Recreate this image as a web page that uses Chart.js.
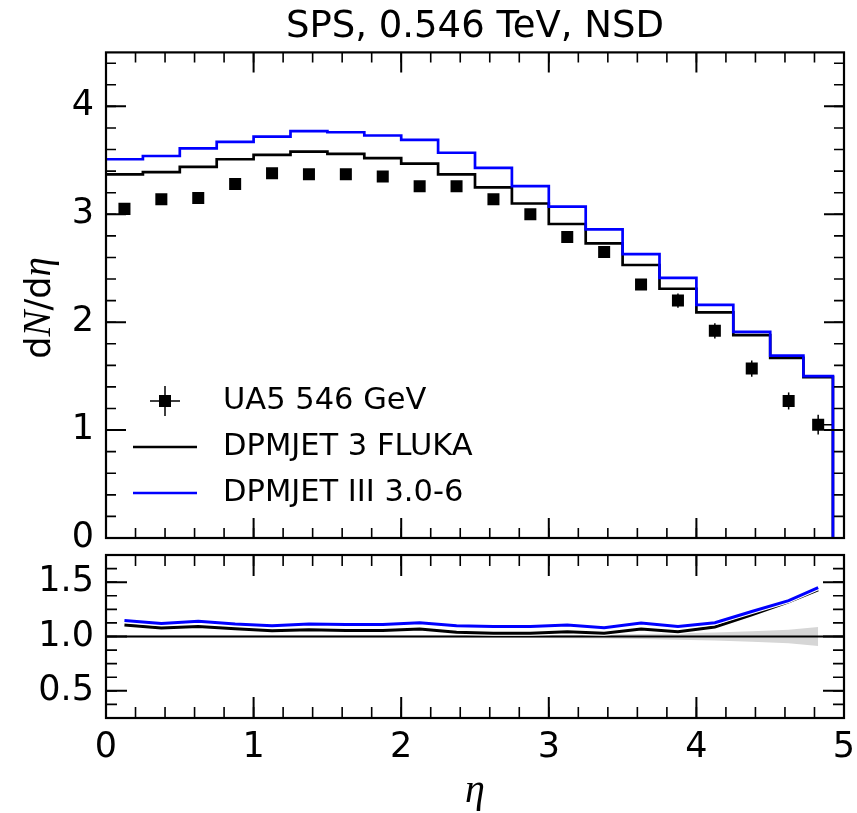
<!DOCTYPE html>
<html>
<head>
<meta charset="utf-8">
<script src="https://cdn.jsdelivr.net/npm/chart.js@4.4.1/dist/chart.umd.min.js"></script>
<style>
  html, body { margin: 0; padding: 0; background: #fff; overflow: hidden; }
  #wrap { position: relative; width: 857px; height: 813px; }
  #top { position: absolute; left: 0; top: 0; }
  #bot { position: absolute; left: 0; top: 548px; }
</style>
</head>
<body>
<div id="wrap">
  <canvas id="top" width="857" height="548"></canvas>
  <canvas id="bot" width="857" height="265"></canvas>
</div>
<script>
// dN/deta at 546 GeV: UA5 points vs two DPMJET histograms, ratio panel below

// UA5 data (bin centres)
const ETA = [0.125, 0.375, 0.625, 0.875, 1.125, 1.375, 1.625, 1.875, 2.125, 2.375,
             2.625, 2.875, 3.125, 3.375, 3.625, 3.875, 4.125, 4.375, 4.625, 4.825];
const UA5 = [3.05, 3.14, 3.15, 3.28, 3.38, 3.37, 3.37, 3.35, 3.26, 3.26,
             3.14, 3.00, 2.79, 2.65, 2.35, 2.20, 1.92, 1.57, 1.27, 1.05];
const UA5_ERR = [0.03, 0.03, 0.03, 0.03, 0.03, 0.03, 0.03, 0.03, 0.03, 0.03,
                 0.035, 0.035, 0.04, 0.045, 0.05, 0.066, 0.071, 0.075, 0.079, 0.091];
const UA5_XERR_HI = [0, 0, 0, 0, 0, 0, 0, 0, 0, 0, 0, 0, 0, 0, 0, 0, 0, 0, 0, 0.1];

// MC histograms (left bin edges + last right edge)
const BIN_EDGES = [0, 0.25, 0.5, 0.75, 1.0, 1.25, 1.5, 1.75, 2.0, 2.25,
                   2.5, 2.75, 3.0, 3.25, 3.5, 3.75, 4.0, 4.25, 4.5, 4.725, 4.925];
const FLUKA = [3.37, 3.39, 3.44, 3.51, 3.55, 3.58, 3.56, 3.52, 3.47, 3.37,
               3.25, 3.10, 2.91, 2.73, 2.53, 2.31, 2.09, 1.88, 1.67, 1.49];
const DPM306 = [3.51, 3.54, 3.61, 3.67, 3.72, 3.77, 3.76, 3.73, 3.69, 3.57,
                3.43, 3.26, 3.07, 2.86, 2.63, 2.41, 2.16, 1.91, 1.69, 1.50];

// ratio panel (MC / data) and relative data uncertainty
const RATIO_FLUKA = [1.105, 1.078, 1.093, 1.071, 1.053, 1.062, 1.056, 1.056, 1.068, 1.04,
                     1.031, 1.031, 1.043, 1.031, 1.068, 1.043, 1.087, 1.20, 1.32, 1.43];
const RATIO_DPM = [1.148, 1.12, 1.14, 1.115, 1.10, 1.115, 1.11, 1.11, 1.127, 1.10,
                   1.093, 1.093, 1.105, 1.08, 1.124, 1.093, 1.127, 1.23, 1.33, 1.45];
const REL_ERR = [0.01, 0.01, 0.01, 0.01, 0.01, 0.01, 0.01, 0.01, 0.01, 0.01,
                 0.012, 0.013, 0.015, 0.018, 0.022, 0.03, 0.037, 0.048, 0.062, 0.087];

// axes
const X_TICKS = [0, 1, 2, 3, 4, 5];
const Y_TICKS_MAIN = [0, 1, 2, 3, 4];
const Y_TICKS_RATIO = [0.5, 1.0, 1.5];
const REF_LEVEL = 1.0;

const SANS = '"DejaVu Sans", sans-serif';
const MATH = '"Liberation Serif", "DejaVu Serif", serif';
const TICK_FONT = { family: SANS, size: 35 };

const pts = (xs, ys) => xs.map((x, i) => ({ x: x, y: ys[i] }));
const hist = vals => BIN_EDGES.map((e, i) => ({ x: e, y: i < vals.length ? vals[i] : 0 }));
const fixTicks = arr => scale => { scale.ticks = arr.map(v => ({ value: v })); };
// pin the plot area: no extra room for overhanging tick labels
const pinY = s => { s.width = 106; s.paddingTop = 0; s.paddingBottom = 0; };
const pinX = s => { s.height = 95; s.paddingLeft = 0; s.paddingRight = 0; };

// frame + inward major/minor ticks on all four sides
const framePlugin = {
  id: 'frame',
  afterDatasetsDraw(chart, args, o) {
    const { ctx, chartArea: a } = chart;
    const xs = chart.scales.x, ys = chart.scales.y;
    ctx.save();
    ctx.strokeStyle = '#000';
    const tx = (v, len, w) => {
      const p = xs.getPixelForValue(v);
      ctx.lineWidth = w;
      ctx.beginPath();
      ctx.moveTo(p, a.bottom); ctx.lineTo(p, a.bottom - len);
      ctx.moveTo(p, a.top); ctx.lineTo(p, a.top + len);
      ctx.stroke();
    };
    const ty = (v, len, w) => {
      const p = ys.getPixelForValue(v);
      ctx.lineWidth = w;
      ctx.beginPath();
      ctx.moveTo(a.left, p); ctx.lineTo(a.left + len, p);
      ctx.moveTo(a.right, p); ctx.lineTo(a.right - len, p);
      ctx.stroke();
    };
    const nx = Math.floor((xs.max - xs.min) / o.xMinor + 1e-6);
    for (let i = 0; i <= nx; i++) tx(xs.min + i * o.xMinor, o.minorLen, 1.6);
    const ny = Math.floor((ys.max - ys.min) / o.yMinor + 1e-6);
    for (let i = 0; i <= ny; i++) ty(ys.min + i * o.yMinor, o.minorLen, 1.6);
    xs.ticks.forEach(t => tx(t.value, o.majorLen, 2));
    ys.ticks.forEach(t => ty(t.value, o.majorLen, 2));
    ctx.lineWidth = 2.2;
    ctx.strokeRect(a.left, a.top, a.right - a.left, a.bottom - a.top);
    ctx.restore();
  }
};

// error bars on the UA5 points
const errorBarPlugin = {
  id: 'errorBars',
  beforeDatasetsDraw(chart) {
    const { ctx } = chart;
    const xs = chart.scales.x, ys = chart.scales.y;
    ctx.save();
    ctx.strokeStyle = '#000';
    ctx.lineWidth = 1.5;
    ETA.forEach((x, i) => {
      const px = xs.getPixelForValue(x);
      ctx.beginPath();
      ctx.moveTo(px, ys.getPixelForValue(UA5[i] - UA5_ERR[i]));
      ctx.lineTo(px, ys.getPixelForValue(UA5[i] + UA5_ERR[i]));
      if (UA5_XERR_HI[i] > 0) {
        const py = ys.getPixelForValue(UA5[i]);
        ctx.moveTo(px, py);
        ctx.lineTo(xs.getPixelForValue(x + UA5_XERR_HI[i]), py);
      }
      ctx.stroke();
    });
    ctx.restore();
  }
};

// legend in the lower-left corner of the main panel
const cornerLegend = {
  id: 'cornerLegend',
  afterDraw(chart, args, o) {
    const ctx = chart.ctx;
    ctx.save();
    ctx.font = o.fontSize + 'px ' + SANS;
    ctx.textBaseline = 'middle';
    ctx.textAlign = 'left';
    o.items.forEach((idx, row) => {
      const ds = chart.data.datasets[idx];
      const cy = o.y + row * o.rowGap;
      const cx = o.x;
      if (ds.type === 'scatter') {
        ctx.strokeStyle = '#000';
        ctx.lineWidth = 1.5;
        ctx.beginPath();
        ctx.moveTo(cx - 15, cy); ctx.lineTo(cx + 15, cy);
        ctx.moveTo(cx, cy - 15); ctx.lineTo(cx, cy + 15);
        ctx.stroke();
        ctx.fillStyle = '#000';
        ctx.fillRect(cx - 6, cy - 6, 12, 12);
      } else {
        ctx.strokeStyle = ds.borderColor;
        ctx.lineWidth = ds.borderWidth;
        ctx.beginPath();
        ctx.moveTo(cx - 32, cy); ctx.lineTo(cx + 32, cy);
        ctx.stroke();
      }
      ctx.fillStyle = '#000';
      ctx.fillText(ds.label, o.textX, cy);
    });
    ctx.restore();
  }
};

// y axis label "dN/dη" with math-italic pieces
const yLabelPlugin = {
  id: 'yLabel',
  afterDraw(chart, args, o) {
    const ctx = chart.ctx;
    ctx.save();
    ctx.translate(o.x, o.y);
    ctx.rotate(-Math.PI / 2);
    ctx.fillStyle = '#000';
    ctx.textBaseline = 'alphabetic';
    let total = 0;
    o.parts.forEach(p => { ctx.font = p.font; total += ctx.measureText(p.text).width; });
    let cx = -total / 2;
    o.parts.forEach(p => {
      ctx.font = p.font;
      ctx.fillText(p.text, cx, 0);
      cx += ctx.measureText(p.text).width;
    });
    ctx.restore();
  }
};

const commonPlugins = { legend: { display: false }, tooltip: { enabled: false } };

new Chart(document.getElementById('top'), {
  type: 'line',
  data: {
    datasets: [
      { type: 'scatter', label: 'UA5 546 GeV', data: pts(ETA, UA5),
        pointStyle: 'rect', pointRadius: 8.5, pointBorderWidth: 0,
        backgroundColor: '#000', borderColor: '#000', order: 3 },
      { label: 'DPMJET 3 FLUKA', data: hist(FLUKA), stepped: true,
        borderColor: '#000', borderWidth: 2.7, pointRadius: 0, fill: false, order: 2 },
      { label: 'DPMJET III 3.0-6', data: hist(DPM306), stepped: true,
        borderColor: '#0000ff', borderWidth: 2.7, pointRadius: 0, fill: false, order: 1 }
    ]
  },
  options: {
    responsive: false,
    animation: false,
    layout: { padding: { left: 0, right: 13, top: 0, bottom: 10 } },
    plugins: Object.assign({}, commonPlugins, {
      title: { display: true, fullSize: false, text: 'SPS, 0.546 TeV, NSD', color: '#000',
               font: { family: SANS, size: 37, weight: 'normal' }, padding: { top: 5, bottom: 3 } },
      frame: { xMinor: 0.2, yMinor: 0.2, majorLen: 20, minorLen: 10 },
      cornerLegend: { items: [0, 1, 2], x: 165, y: 401, rowGap: 46, textX: 223, fontSize: 30.5 },
      yLabel: { x: 50, y: 308, parts: [
        { text: 'd', font: '35px ' + SANS },
        { text: 'N', font: 'italic 39px ' + MATH },
        { text: '/', font: '35px ' + SANS },
        { text: 'd', font: '35px ' + SANS },
        { text: 'η', font: 'italic 39px ' + MATH }
      ] }
    }),
    scales: {
      x: { type: 'linear', min: 0, max: 5, display: false, afterBuildTicks: fixTicks(X_TICKS) },
      y: { type: 'linear', min: 0, max: 4.5,
           afterBuildTicks: fixTicks(Y_TICKS_MAIN),
           afterFit: pinY,
           grid: { display: false, drawTicks: false }, border: { display: false },
           ticks: { color: '#000', font: TICK_FONT, padding: 12 } }
    }
  },
  plugins: [errorBarPlugin, framePlugin, cornerLegend, yLabelPlugin]
});

new Chart(document.getElementById('bot'), {
  type: 'line',
  data: {
    datasets: [
      { label: 'band+', data: pts(ETA, REL_ERR.map(e => REF_LEVEL + e)), pointRadius: 0,
        borderWidth: 0, borderColor: 'rgba(0,0,0,0)', backgroundColor: '#d6d6d6', fill: '+1', order: 9 },
      { label: 'band-', data: pts(ETA, REL_ERR.map(e => REF_LEVEL - e)), pointRadius: 0,
        borderWidth: 0, borderColor: 'rgba(0,0,0,0)', fill: false, order: 9 },
      { label: 'ref', data: [{ x: X_TICKS[0], y: REF_LEVEL }, { x: X_TICKS[X_TICKS.length - 1], y: REF_LEVEL }],
        borderColor: '#000', borderWidth: 2, pointRadius: 0, fill: false, order: 8 },
      { label: 'fluka halo', data: pts(ETA, RATIO_FLUKA), borderColor: '#fff', borderWidth: 5.2,
        pointRadius: 0, fill: false, order: 7 },
      { label: 'DPMJET 3 FLUKA', data: pts(ETA, RATIO_FLUKA), borderColor: '#000', borderWidth: 3,
        pointRadius: 0, fill: false, order: 6 },
      { label: 'dpm halo', data: pts(ETA, RATIO_DPM), borderColor: '#fff', borderWidth: 5.2,
        pointRadius: 0, fill: false, order: 5 },
      { label: 'DPMJET III 3.0-6', data: pts(ETA, RATIO_DPM), borderColor: '#0000ff', borderWidth: 3,
        pointRadius: 0, fill: false, order: 4 }
    ]
  },
  options: {
    responsive: false,
    animation: false,
    layout: { padding: { left: 0, right: 13, top: 7, bottom: 0 } },
    plugins: Object.assign({}, commonPlugins, {
      frame: { xMinor: 0.2, yMinor: 0.125, majorLen: 21, minorLen: 11 }
    }),
    scales: {
      x: { type: 'linear', min: 0, max: 5,
           afterBuildTicks: fixTicks(X_TICKS),
           afterFit: pinX,
           grid: { display: false, drawTicks: false }, border: { display: false },
           ticks: { color: '#000', font: TICK_FONT, padding: 9, maxRotation: 0 },
           title: { display: true, text: 'η', color: '#000',
                    font: { family: MATH, size: 40, style: 'italic', lineHeight: 1.05 },
                    padding: { top: 0, bottom: 1 } } },
      y: { type: 'linear', min: 0.25, max: 1.75,
           afterBuildTicks: fixTicks(Y_TICKS_RATIO),
           afterFit: pinY,
           grid: { display: false, drawTicks: false }, border: { display: false },
           ticks: { color: '#000', font: TICK_FONT, padding: 12, callback: v => v.toFixed(1) } }
    }
  },
  plugins: [framePlugin]
});
</script>
</body>
</html>
